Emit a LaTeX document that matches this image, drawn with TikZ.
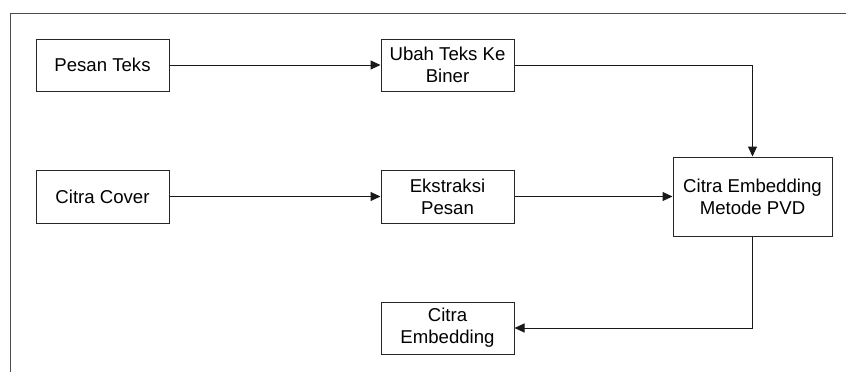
\documentclass[tikz,border=0pt]{standalone}
\usepackage{fontspec}
\setmainfont{Liberation Sans}
\usetikzlibrary{arrows.meta}
\begin{document}
\begin{tikzpicture}[x=1pt,y=-1pt,
  box/.style={draw=black!85,line width=1pt,minimum width=133pt,align=center,inner sep=0pt,
    font=\fontsize{18.6}{22}\selectfont},
  conn/.style={line width=1pt,draw=black!90},
  arr/.style={conn,-{Triangle[length=10pt,width=9pt]}}]
\useasboundingbox (0,0) rectangle (846,372);
\draw[line width=1pt,draw=black!70] (846,13) -- (10,13) -- (10,372);
\node[box,minimum height=52pt] (pt) at (102.5,65) {Pesan Teks};
\node[box,minimum height=52pt] (ub) at (447.5,65) {Ubah Teks Ke\\Biner};
\node[box,minimum height=53pt] (cc) at (102.5,196.5) {Citra Cover};
\node[box,minimum height=53pt] (ek) at (447.5,196.5) {Ekstraksi\\Pesan};
\node[box,minimum width=159pt,minimum height=79pt] (pvd) at (752.5,196.5) {Citra Embedding\\Metode PVD};
\node[box,minimum height=52pt] (ce) at (447.5,328) {Citra\\Embedding};
\draw[arr] (pt) -- (ub);
\draw[arr] (ub.east) -| (pvd.north);
\draw[arr] (cc) -- (ek);
\draw[arr] (ek) -- (pvd);
\draw[arr] (pvd.south) |- (ce.east);
\end{tikzpicture}
\end{document}
